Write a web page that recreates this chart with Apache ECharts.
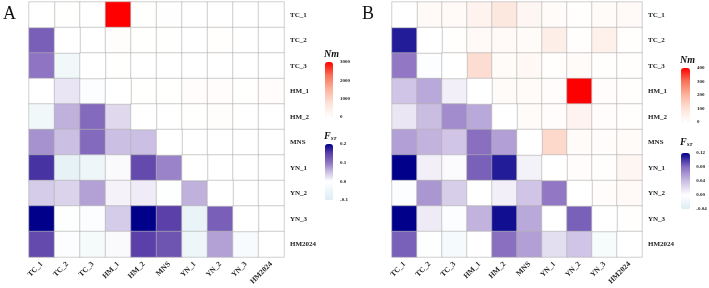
<!DOCTYPE html>
<html>
<head>
<meta charset="utf-8">
<script src="https://cdn.jsdelivr.net/npm/echarts@6/dist/echarts.min.js"></script>
<style>
  html, body { margin: 0; padding: 0; background: #fff; }
  #chart { width: 709px; height: 288px; }
</style>
</head>
<body>
<div id="chart"></div>
<script>
// populations, same order on both axes
const pops = ['TC_1', 'TC_2', 'TC_3', 'HM_1', 'HM_2', 'MNS', 'YN_1', 'YN_2', 'YN_3', 'HM2024'];

// panel A: FST lower triangle (row i, cols 0..i-1), Nm upper triangle (row i, cols i+1..9)
const fstA = [
  [],
  [0.12],
  [0.10, -0.04],
  [0.0, 0.02, -0.01],
  [-0.04, 0.06, 0.11, 0.03],
  [0.08, 0.05, 0.11, 0.05, 0.05],
  [0.16, -0.07, -0.05, 0.005, 0.14, 0.09],
  [0.04, 0.035, 0.07, 0.01, 0.015, -0.005, 0.06],
  [0.20, -0.005, -0.01, 0.04, 0.20, 0.15, -0.06, 0.12],
  [0.14, -0.01, -0.03, 0.005, 0.15, 0.13, -0.05, 0.07, -0.02]
];
const nmA = [
  [10, 5, 3000, 10, 20, 5, 5, 5, 5],
  [5, 60, 10, 10, 5, 30, 5, 5],
  [10, 5, 5, 5, 5, 5, 5],
  [10, 10, 80, 80, 10, 80],
  [5, 10, 50, 5, 5],
  [5, 5, 5, 5],
  [5, 5, 5],
  [5, 5],
  [5]
];

// panel B
const fstB = [
  [],
  [0.11],
  [0.075, -0.005],
  [0.035, 0.05, 0.01],
  [0.015, 0.04, 0.065, 0.05],
  [0.055, 0.045, 0.035, 0.08, 0.055],
  [0.12, 0.01, 0.003, 0.085, 0.11, 0.008],
  [-0.005, 0.06, 0.03, 0.0, 0.01, 0.035, 0.075],
  [0.125, 0.012, -0.004, 0.045, 0.115, 0.05, 0.0, 0.085],
  [0.085, -0.002, -0.012, 0.0, 0.08, 0.055, 0.02, 0.035, -0.01]
];
const nmB = [
  [20, 20, 40, 80, 30, 15, 5, 15, 20],
  [5, 20, 20, 15, 60, 5, 50, 5],
  [110, 15, 25, 5, 15, 5, 5],
  [15, 15, 10, 400, 10, 5],
  [15, 10, 40, 10, 5],
  [120, 15, 10, 15],
  [10, 5, 30],
  [10, 20],
  [5]
];

const nmColors = ['#ffffff', '#fde2d8', '#fcb49e', '#f8745a', '#ff0000'];
// stops at -0.1, -0.05, 0, 0.05, 0.1, 0.15, 0.2
const fstColorsA = ['#dcedf4', '#eef6f9', '#ffffff', '#cbbfe3', '#8e74c2', '#5a40a8', '#00008b'];
// stops at -0.04, 0, 0.04, 0.08, 0.12
const fstColorsB = ['#dcedf4', '#ffffff', '#c9bde2', '#8a6ec0', '#00008b'];

function lowerCells(rows) {
  const out = [];
  rows.forEach((r, i) => r.forEach((v, j) => out.push([j, i, v])));
  return out;
}
function upperCells(rows) {
  const out = [];
  rows.forEach((r, i) => r.forEach((v, k) => out.push([i + 1 + k, i, v])));
  return out;
}
const diag = pops.map((p, i) => [i, i, 0]);

const serif = 'Liberation Serif';
const border = { borderColor: '#b2b2b2', borderWidth: 0.6 };

function heatAxes(idx) {
  return {
    x: {
      type: 'category', data: pops, gridIndex: idx,
      axisLine: { show: false }, axisTick: { show: false },
      axisLabel: { rotate: 45, fontFamily: serif, fontWeight: 'bold', fontSize: 7.5, color: '#222', margin: 6 }
    },
    y: {
      type: 'category', data: pops, gridIndex: idx, inverse: true, position: 'right',
      axisLine: { show: false }, axisTick: { show: false },
      axisLabel: { fontFamily: serif, fontWeight: 'bold', fontSize: 7, color: '#222', margin: 6 }
    }
  };
}
function legendAxes(idx, min, max, step, digits) {
  return {
    x: { type: 'value', gridIndex: idx, show: false },
    y: {
      type: 'value', gridIndex: idx, min: min, max: max, interval: step, position: 'right',
      axisLine: { show: false }, axisTick: { show: false }, splitLine: { show: false },
      axisLabel: { fontFamily: serif, fontWeight: 'bold', fontSize: 5, color: '#222', margin: 6,
        formatter: v => v.toFixed(digits) }
    }
  };
}

const axA = heatAxes(0), axB = heatAxes(1);
const lg = [
  legendAxes(2, 0, 3000, 1000, 0),
  legendAxes(3, -0.1, 0.2, 0.1, 1),
  legendAxes(4, 0, 400, 100, 0),
  legendAxes(5, -0.04, 0.12, 0.04, 2)
];

const chart = echarts.init(document.getElementById('chart'), null, { renderer: 'canvas' });

const option = {
  backgroundColor: '#fff',
  animation: false,
  grid: [
    { left: 29, top: 2, width: 255, height: 255 },
    { left: 392, top: 2, width: 250, height: 255 },
    { left: 333, top: 62, width: 1, height: 55 },
    { left: 333, top: 144, width: 1, height: 56 },
    { left: 690, top: 68, width: 1, height: 54 },
    { left: 690, top: 153, width: 1, height: 56 }
  ],
  xAxis: [axA.x, axB.x].concat(lg.map(a => a.x)),
  yAxis: [axA.y, axB.y].concat(lg.map(a => a.y)),
  visualMap: [
    { type: 'continuous', seriesIndex: 1, min: 0, max: 3000, calculable: false, padding: 0,
      left: 325, top: 62, itemWidth: 8, itemHeight: 55, inRange: { color: nmColors } },
    { type: 'continuous', seriesIndex: 0, min: -0.1, max: 0.2, calculable: false, padding: 0,
      left: 325, top: 144, itemWidth: 8, itemHeight: 56, inRange: { color: fstColorsA } },
    { type: 'continuous', seriesIndex: 4, min: 0, max: 400, calculable: false, padding: 0,
      left: 681, top: 68, itemWidth: 9, itemHeight: 54, inRange: { color: nmColors } },
    { type: 'continuous', seriesIndex: 3, min: -0.04, max: 0.12, calculable: false, padding: 0,
      left: 681, top: 153, itemWidth: 9, itemHeight: 56, inRange: { color: fstColorsB } }
  ],
  series: [
    { type: 'heatmap', xAxisIndex: 0, yAxisIndex: 0, data: lowerCells(fstA), itemStyle: border },
    { type: 'heatmap', xAxisIndex: 0, yAxisIndex: 0, data: upperCells(nmA), itemStyle: border },
    { type: 'heatmap', xAxisIndex: 0, yAxisIndex: 0, data: diag, itemStyle: Object.assign({ color: '#fff' }, border) },
    { type: 'heatmap', xAxisIndex: 1, yAxisIndex: 1, data: lowerCells(fstB), itemStyle: border },
    { type: 'heatmap', xAxisIndex: 1, yAxisIndex: 1, data: upperCells(nmB), itemStyle: border },
    { type: 'heatmap', xAxisIndex: 1, yAxisIndex: 1, data: diag, itemStyle: Object.assign({ color: '#fff' }, border) }
  ],
  graphic: [
    { type: 'text', left: 3, top: 5, style: { text: 'A', font: '18px "Liberation Serif"', fill: '#111' } },
    { type: 'text', left: 362, top: 5, style: { text: 'B', font: '18px "Liberation Serif"', fill: '#111' } },
    { type: 'text', left: 324, top: 49, style: { text: 'Nm', font: 'italic bold 10px "Liberation Serif"', fill: '#111' } },
    { type: 'text', left: 680, top: 55, style: { text: 'Nm', font: 'italic bold 10px "Liberation Serif"', fill: '#111' } },
    { type: 'text', left: 324, top: 131, style: { text: '{a|F}{b|ST}',
      rich: { a: { fontFamily: serif, fontStyle: 'italic', fontWeight: 'bold', fontSize: 10, fill: '#111' },
              b: { fontFamily: serif, fontStyle: 'italic', fontWeight: 'bold', fontSize: 5, fill: '#111', padding: [5, 0, 0, 0] } } } },
    { type: 'text', left: 680, top: 137, style: { text: '{a|F}{b|ST}',
      rich: { a: { fontFamily: serif, fontStyle: 'italic', fontWeight: 'bold', fontSize: 10, fill: '#111' },
              b: { fontFamily: serif, fontStyle: 'italic', fontWeight: 'bold', fontSize: 5, fill: '#111', padding: [5, 0, 0, 0] } } } }
  ]
};

chart.setOption(option);
</script>
</body>
</html>
